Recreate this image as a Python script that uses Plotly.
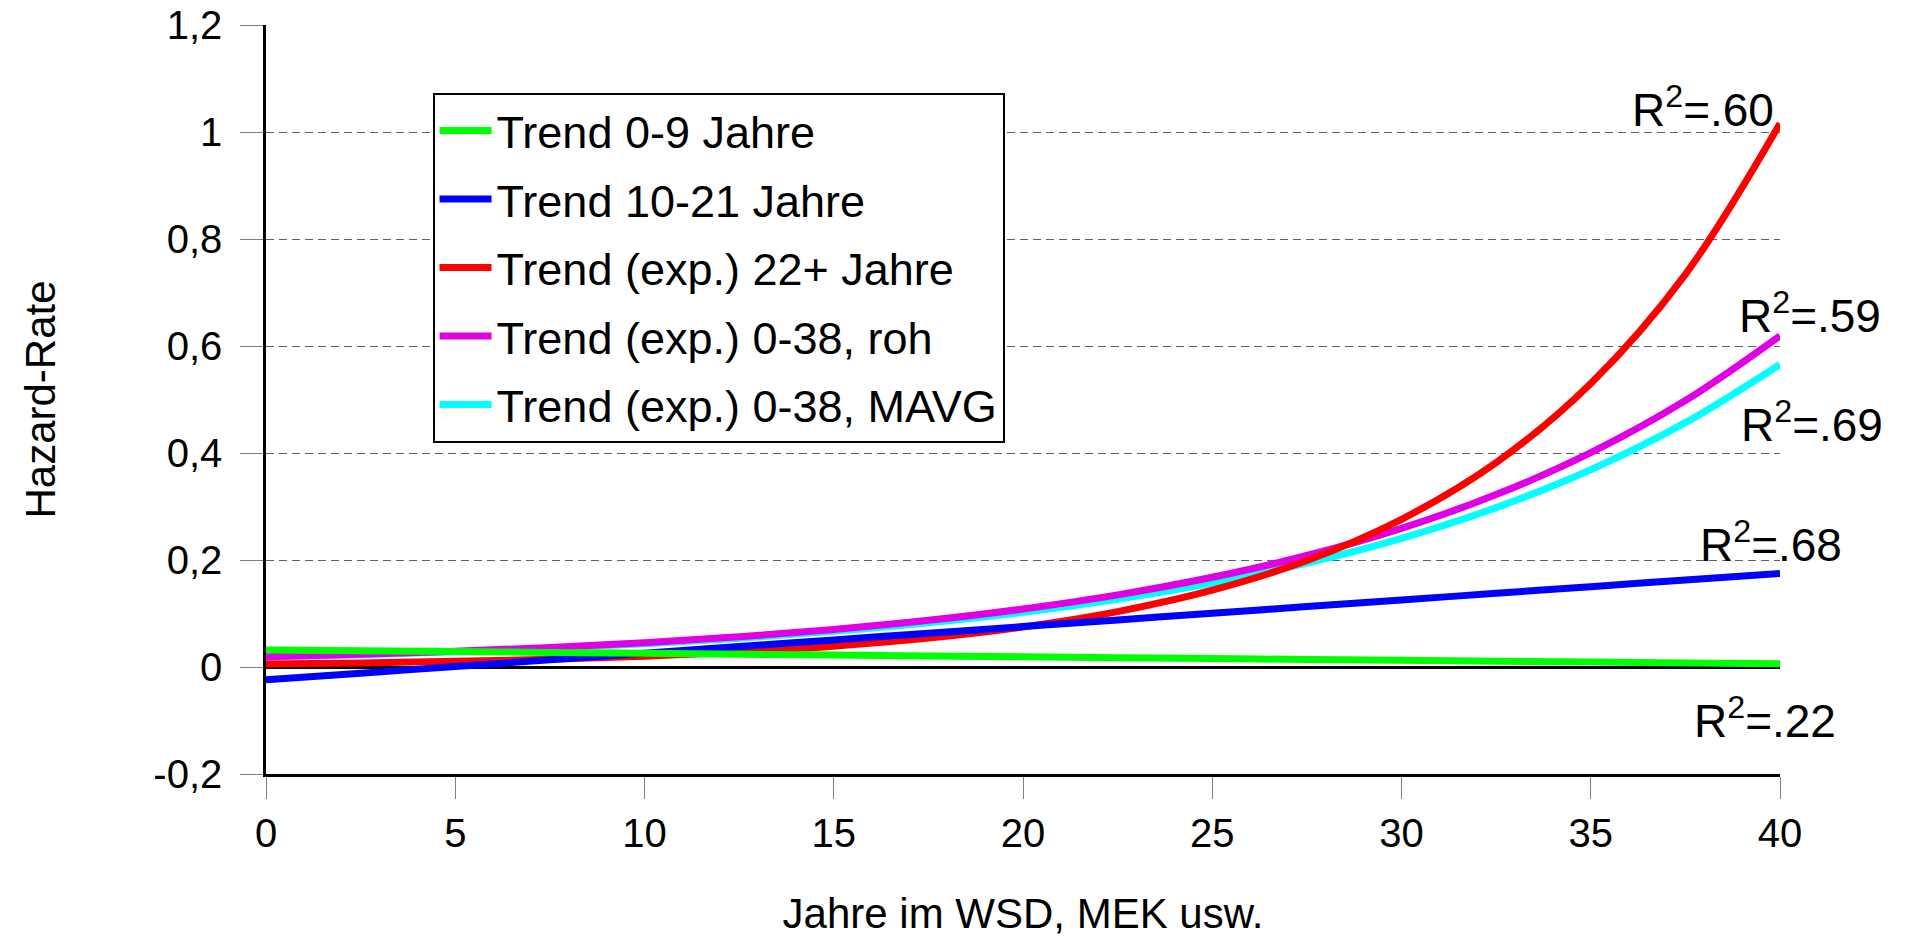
import plotly.graph_objects as go

# ---- data ----
years = [0, 2.5, 5, 7.5, 10, 12.5, 15, 17.5, 20, 22.5, 25, 27.5, 30, 32.5, 35, 37.5, 40]

trend_0_9 = [0.032, 0.0304, 0.0288, 0.0271, 0.0255, 0.0239, 0.0223, 0.0206, 0.019,
             0.0174, 0.0158, 0.0141, 0.0125, 0.0109, 0.0093, 0.0076, 0.006]
trend_10_21 = [-0.024, -0.0116, 0.0009, 0.0133, 0.0258, 0.0382, 0.0506, 0.0631, 0.0755,
               0.088, 0.1004, 0.1129, 0.1253, 0.1378, 0.1502, 0.1626, 0.175]
trend_exp_22 = [0.0055, 0.0076, 0.0106, 0.0146, 0.0203, 0.0281, 0.039, 0.054, 0.0748,
                0.1036, 0.1436, 0.199, 0.276, 0.382, 0.53, 0.734, 1.016]
trend_exp_roh = [0.019, 0.0236, 0.0294, 0.0365, 0.0454, 0.0564, 0.0702, 0.0872, 0.1085,
                 0.1349, 0.1677, 0.2084, 0.2592, 0.3222, 0.4006, 0.498, 0.619]
trend_exp_mavg = [0.0185, 0.0229, 0.0284, 0.0351, 0.0435, 0.0539, 0.0667, 0.0826, 0.1023,
                  0.1267, 0.1568, 0.1942, 0.2405, 0.2979, 0.3688, 0.4567, 0.5655]

series_names = ["Trend 0-9 Jahre", "Trend 10-21 Jahre", "Trend (exp.) 22+ Jahre",
                "Trend (exp.) 0-38, roh", "Trend (exp.) 0-38, MAVG"]
series_values = [trend_0_9, trend_10_21, trend_exp_22, trend_exp_roh, trend_exp_mavg]
series_colors = ["#00FF00", "#0000FF", "#FF0000", "#E100E6", "#00FFFF"]

x_ticks = [0, 5, 10, 15, 20, 25, 30, 35, 40]
y_ticks = [-0.2, 0, 0.2, 0.4, 0.6, 0.8, 1.0, 1.2]
y_ticktext = ["-0,2", "0", "0,2", "0,4", "0,6", "0,8", "1", "1,2"]

r2_labels = ["R<sup>2</sup>=.60", "R<sup>2</sup>=.59", "R<sup>2</sup>=.69",
             "R<sup>2</sup>=.68", "R<sup>2</sup>=.22"]
# label anchor (right edge) in paper fraction of the plot width, and y in data units
r2_x = [0.9974, 1.068, 1.0694, 1.0423, 1.0383]
r2_y = [1.047, 0.662, 0.4585, 0.234, -0.095]

FONT = "Liberation Sans, Arial, Helvetica, sans-serif"

fig = go.Figure()
# draw in reverse so the first series lies on top; legend rank keeps the original order
for i, (name, vals, col) in reversed(list(enumerate(zip(series_names, series_values, series_colors)))):
    fig.add_trace(go.Scatter(
        x=years, y=vals, name=name, mode="lines",
        legendgroup=f"g{i}", legendrank=i + 1,
        line=dict(color=col, width=7, shape="spline"),
    ))

for txt, ax, ay in zip(r2_labels, r2_x, r2_y):
    fig.add_annotation(x=ax, y=ay, xref="paper", yref="y", text=txt, showarrow=False,
                       xanchor="right", yanchor="middle",
                       font=dict(family=FONT, size=46, color="black"))

fig.update_layout(
    width=1906, height=937,
    margin=dict(l=266, r=126, t=25, b=163),
    paper_bgcolor="white", plot_bgcolor="white",
    font=dict(family=FONT, color="black", size=40),
    showlegend=True,
    legend=dict(
        x=0.110, y=0.9096, xanchor="left", yanchor="top",
        traceorder="grouped", tracegroupgap=7,
        itemwidth=52, entrywidth=545, entrywidthmode="pixels",
        bgcolor="white", bordercolor="black", borderwidth=2,
        font=dict(family=FONT, size=45, color="black"),
    ),
)

fig.update_xaxes(
    range=[0, 40], tickvals=x_ticks, ticktext=[str(v) for v in x_ticks],
    showgrid=False, zeroline=False, automargin=False,
    showline=True, linecolor="black", linewidth=3,
    ticks="outside", ticklen=22, tickwidth=1, tickcolor="#7f7f7f",
    ticklabelstandoff=0,
    tickfont=dict(family=FONT, size=40, color="black"),
    title=dict(text="Jahre im WSD, MEK usw.", font=dict(family=FONT, size=42, color="black"),
               standoff=50),
)
fig.update_yaxes(
    range=[-0.2, 1.2], tickvals=y_ticks, ticktext=y_ticktext,
    showgrid=True, gridcolor="#606060", gridwidth=1, griddash="8px,5px",
    zeroline=True, zerolinecolor="black", zerolinewidth=3,
    showline=True, linecolor="black", linewidth=2.5, automargin=False,
    ticks="outside", ticklen=23, tickwidth=1, tickcolor="#7f7f7f",
    ticklabelstandoff=10,
    tickfont=dict(family=FONT, size=40, color="black"),
    title=dict(text="Hazard-Rate", font=dict(family=FONT, size=42, color="black"),
               standoff=85),
)

fig.write_html("out.html")
